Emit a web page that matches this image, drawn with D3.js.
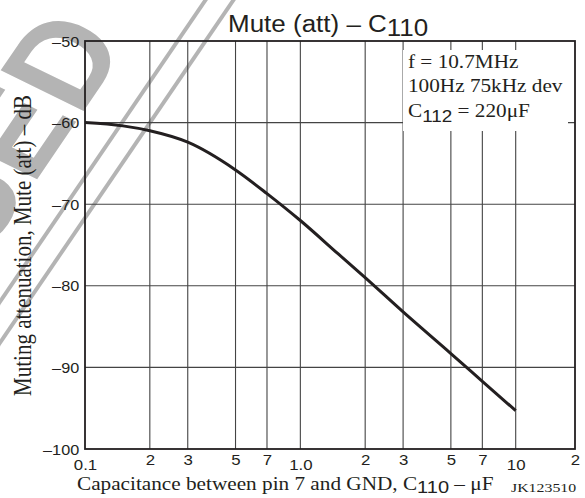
<!DOCTYPE html>
<html><head><meta charset="utf-8">
<script src="https://cdn.jsdelivr.net/npm/d3@7"></script>
<style>body{margin:0;background:#fff}svg{display:block}</style>
</head><body>
<svg id="c" width="585" height="498"></svg>
<script>
// ---- data ----
const capacitance = [0.1, 0.15, 0.2, 0.3, 0.5, 0.7, 1, 1.5, 2, 3, 5, 7, 10];
const muteAtt = [-60, -60.4, -61.0, -62.4, -65.8, -68.7, -72.0, -76.1, -79.0, -83.2, -88.3, -91.7, -95.3];
const yTicks = [-50, -60, -70, -80, -90, -100];
const yTickLabels = ["–50", "–60", "–70", "–80", "–90", "–100"];
const xGrid = [0.2, 0.3, 0.5, 0.7, 1, 2, 3, 5, 7, 10];
const yGrid = [-60, -70, -80, -90];
const xTicks = [0.1, 0.2, 0.3, 0.5, 0.7, 1, 2, 3, 5, 7, 10, 20];
const xTickLabels = ["0.1", "2", "3", "5", "7", "1.0", "2", "3", "5", "7", "10", "2"];
const decadeTicks = [0.1, 1, 10];
const noteLine1 = "f = 10.7MHz";
const noteLine2 = "100Hz 75kHz dev";
const noteLine3 = ["C", "112", " = 220μF"];
const titleParts = ["Mute (att) – C", "110"];
const xTitleParts = ["Capacitance between pin 7 and GND, C", "110", " – μF"];
const yTitle = "Muting attenuation, Mute (att) – dB";
const figCode = "JK123510";
const watermark = "DISCONTINUED";

const SANS = "'Liberation Sans', Arial, Helvetica, sans-serif";
const SERIF = "'Liberation Serif', 'Times New Roman', serif";
const INK = "#231f20";

const svg = d3.select("#c");
const L = 85, R = 575, T = 41, B = 449;

const x = d3.scaleLog().domain([0.1, 10, 20]).range([L, 515.7, R]);
const y = d3.scaleLinear().domain([-100, -50]).range([B, T]);

// ---- watermark ----
const wm = svg.append("g").attr("fill", "#b4b4b4")
  .attr("transform", "scale(1.18,1) translate(100,128.5) rotate(-60)");
wm.append("text").attr("x", 78).attr("y", -34).attr("text-anchor", "end")
  .attr("font-family", SANS).attr("font-weight", "bold").attr("font-size", 118)
  .text(watermark);
[0, 20.5].forEach(o => wm.append("line").attr("x1", -500).attr("x2", 500)
  .attr("y1", o).attr("y2", o).attr("stroke", "#b4b4b4").attr("stroke-width", 3.5));

// ---- grid ----
const grid = svg.append("g").attr("stroke", "#444").attr("stroke-width", 1.1);
grid.selectAll("line.v").data(xGrid).join("line").attr("class", "v")
  .attr("x1", d => x(d)).attr("x2", d => x(d)).attr("y1", T).attr("y2", B);
grid.selectAll("line.h").data(yGrid).join("line").attr("class", "h")
  .attr("x1", L).attr("x2", R).attr("y1", d => y(d)).attr("y2", d => y(d));

// white box behind the note
svg.append("rect").attr("x", 403).attr("y", 50).attr("width", 165).attr("height", 81).attr("fill", "#fff");

// frame
svg.append("rect").attr("x", L).attr("y", T).attr("width", R - L).attr("height", B - T)
  .attr("fill", "none").attr("stroke", INK).attr("stroke-width", 1.8);

// ---- curve ----
const pts = capacitance.map((c, i) => [c, muteAtt[i]]);
svg.append("path").datum(pts)
  .attr("d", d3.line().x(d => x(d[0])).y(d => y(d[1])).curve(d3.curveMonotoneX))
  .attr("fill", "none").attr("stroke", INK).attr("stroke-width", 3).attr("stroke-linecap", "butt");

// ---- y axis labels ----
const yAxis = svg.append("g").attr("transform", `translate(${L},0)`)
  .call(d3.axisLeft(y).tickValues(yTicks).tickSize(0).tickPadding(5)
    .tickFormat((d, i) => yTickLabels[i]));
yAxis.select(".domain").remove();
yAxis.selectAll("text").attr("font-family", SANS).attr("font-size", 14).attr("fill", INK)
  .attr("dy", "0.36em").attr("transform", "scale(1.16,1)");

// ---- x axis labels ----
const xAxis = svg.append("g").attr("transform", `translate(0,${B})`)
  .call(d3.axisBottom(x).tickValues(xTicks).tickSize(0).tickPadding(0)
    .tickFormat((d, i) => xTickLabels[i]));
xAxis.select(".domain").remove();
xAxis.selectAll("text").attr("font-family", SANS).attr("font-size", 14.5).attr("fill", INK)
  .attr("y", d => decadeTicks.includes(d) ? 21 : 16).attr("dy", 0)
  .attr("transform", "scale(1.16,1)");

// ---- title ----
const title = svg.append("text").attr("transform", "translate(228,32) scale(1.13,1)")
  .attr("font-family", SANS).attr("font-size", 23).attr("fill", INK);
title.append("tspan").text(titleParts[0]);
title.append("tspan").attr("dy", 4).text(titleParts[1]);

// ---- x title ----
const xt = svg.append("text").attr("transform", "translate(77,490) scale(1.18,1)")
  .attr("font-family", SERIF).attr("font-size", 18).attr("fill", INK);
xt.append("tspan").text(xTitleParts[0]);
xt.append("tspan").attr("font-family", SANS).attr("font-size", 17).attr("dy", 3).text(xTitleParts[1]);
xt.append("tspan").attr("dy", -3).text(xTitleParts[2]);

svg.append("text").attr("transform", "translate(511,492) scale(1.27,1)")
  .attr("font-family", SERIF).attr("font-size", 12.5).attr("fill", INK).text(figCode);

// ---- y title ----
svg.append("text").attr("transform", "translate(30.5,245.5) scale(1.18,1) rotate(-90)")
  .attr("text-anchor", "middle").attr("font-family", SERIF).attr("font-size", 21).attr("fill", INK)
  .text(yTitle);

// ---- note ----
const note = svg.append("g").attr("font-family", SERIF).attr("font-size", 18).attr("fill", INK);
note.append("text").attr("transform", "translate(408,68) scale(1.18,1)").text(noteLine1);
note.append("text").attr("transform", "translate(408,92) scale(1.18,1)").text(noteLine2);
const n3 = note.append("text").attr("transform", "translate(408,117) scale(1.18,1)");
n3.append("tspan").text(noteLine3[0]);
n3.append("tspan").attr("font-family", SANS).attr("font-size", 16).attr("dy", 5).text(noteLine3[1]);
n3.append("tspan").attr("dy", -5).text(noteLine3[2]);
</script>
</body></html>
